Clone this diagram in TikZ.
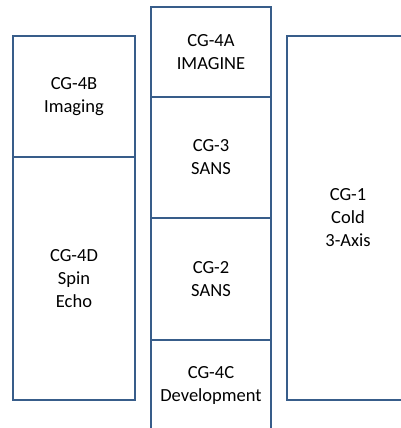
\documentclass[tikz,border=0pt]{standalone}
\usepackage{fontspec}
\setmainfont{Carlito}
\usepackage{xcolor}
\usepackage{tikz}
\usetikzlibrary{positioning}

\definecolor{guideblue}{HTML}{385D8A}

\begin{document}
\begin{tikzpicture}[x=1pt,y=-1pt,
    guide/.style={rectangle,draw=guideblue,line width=2pt,outer sep=0pt,inner sep=0pt,
      align=center,font=\fontsize{18.5}{23}\selectfont}]
    \clip (0,0) rectangle (401,428);
    % left column
    \node[guide,minimum width=122pt,minimum height=121pt,anchor=north west] (cgfourb) at (13,36) {CG-4B\\Imaging};
    \node[guide,minimum width=122pt,minimum height=243pt,below=0pt of cgfourb] (cgfourd) {CG-4D\\Spin\\Echo};
    % middle column
    \node[guide,minimum width=120pt,minimum height=90pt,anchor=north west] (cgfoura) at (151,7) {CG-4A\\IMAGINE};
    \node[guide,minimum width=120pt,minimum height=121pt,below=0pt of cgfoura] (cgthree) {CG-3\\SANS};
    \node[guide,minimum width=120pt,minimum height=122pt,below=0pt of cgthree] (cgtwo) {CG-2\\SANS};
    \node[guide,minimum width=120pt,minimum height=90pt,below=0pt of cgtwo] (cgfourc) {CG-4C\\Development};
    % right column
    \node[guide,minimum width=122pt,minimum height=364pt,anchor=north west] (cgone) at (287,36) {CG-1\\Cold\\3-Axis};
  \end{tikzpicture}
\end{document}
